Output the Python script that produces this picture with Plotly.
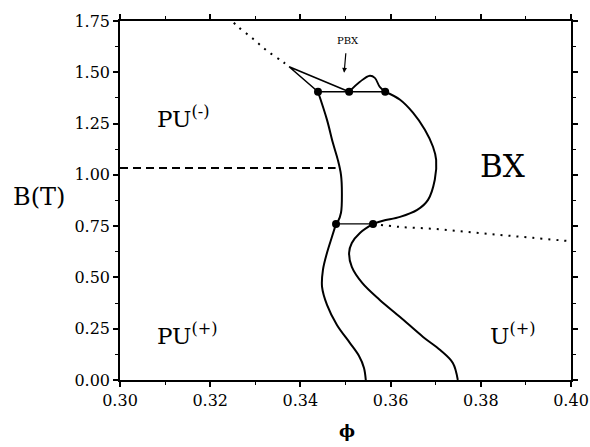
import plotly.graph_objects as go

# Upper-left boundary of BX (from upper tie point down to lower tie point)
bx_left_phi = [0.3439, 0.3459, 0.3472, 0.3483, 0.3490, 0.3492, 0.3490, 0.3483, 0.3479]
bx_left_B = [1.405, 1.268, 1.156, 1.073, 1.000, 0.912, 0.815, 0.771, 0.761]

# Right boundary of BX
bx_right_phi = [0.3588, 0.3621, 0.3650, 0.3676, 0.3694, 0.3701, 0.3698, 0.3683, 0.3659, 0.3621, 0.3583, 0.3561]
bx_right_B = [1.405, 1.366, 1.302, 1.220, 1.137, 1.073, 0.976, 0.878, 0.829, 0.795, 0.776, 0.761]

# Lower-left boundary (PU(+) side)
low_left_phi = [0.3479, 0.3470, 0.3459, 0.3450, 0.3448, 0.3459, 0.3481, 0.3510, 0.3530, 0.3541, 0.3545]
low_left_B = [0.761, 0.698, 0.620, 0.537, 0.454, 0.366, 0.268, 0.180, 0.117, 0.059, 0.000]

# Lower-right boundary (U(+) side)
low_right_phi = [0.3561, 0.3532, 0.3514, 0.3508, 0.3514, 0.3537, 0.3576, 0.3621, 0.3672, 0.3710, 0.3738, 0.3749]
low_right_B = [0.761, 0.717, 0.668, 0.620, 0.551, 0.473, 0.390, 0.307, 0.210, 0.146, 0.083, 0.000]

# PBX region near the top
cusp_phi = [0.3439, 0.3375, 0.3508]
cusp_B = [1.405, 1.527, 1.405]
bump_phi = [0.3508, 0.3532, 0.3554, 0.3565, 0.3576, 0.3588]
bump_B = [1.405, 1.454, 1.483, 1.473, 1.429, 1.405]

# Tie lines (triple points)
tie_top_phi = [0.3439, 0.3508, 0.3588]
tie_top_B = [1.405, 1.405, 1.405]
tie_low_phi = [0.3479, 0.3561]
tie_low_B = [0.761, 0.761]

# Dotted lines
dot_top_phi = [0.3240, 0.3259, 0.3295, 0.3326, 0.3361, 0.3375]
dot_top_B = [1.770, 1.727, 1.663, 1.605, 1.551, 1.527]
dot_right_phi = [0.3561, 0.3621, 0.3694, 0.3769, 0.3843, 0.3916, 0.3991, 0.4000]
dot_right_B = [0.761, 0.746, 0.737, 0.722, 0.707, 0.693, 0.678, 0.676]

# Dashed line
dash_phi = [0.3000, 0.3478]
dash_B = [1.034, 1.034]

x_ticks = [0.30, 0.32, 0.34, 0.36, 0.38, 0.40]
y_ticks = [0.00, 0.25, 0.50, 0.75, 1.00, 1.25, 1.50, 1.75]

FONT = "DejaVu Serif"

fig = go.Figure()

def solid(x, y, w=2.0, shape="spline"):
    fig.add_trace(go.Scatter(x=x, y=y, mode="lines", line=dict(color="black", width=w, shape=shape),
                             showlegend=False, hoverinfo="skip"))

solid(bx_left_phi, bx_left_B)
solid(bx_right_phi, bx_right_B)
solid(low_left_phi, low_left_B)
solid(low_right_phi, low_right_B)
solid(cusp_phi, cusp_B, 1.6, "linear")
solid(bump_phi, bump_B, 1.8)
solid(tie_top_phi, tie_top_B, 1.4, "linear")
solid(tie_low_phi, tie_low_B, 1.4, "linear")

fig.add_trace(go.Scatter(x=dot_top_phi, y=dot_top_B, mode="lines",
                         line=dict(color="black", width=2, dash="2px,6px", shape="spline"),
                         showlegend=False, hoverinfo="skip"))
fig.add_trace(go.Scatter(x=dot_right_phi, y=dot_right_B, mode="lines",
                         line=dict(color="black", width=2, dash="2px,6px", shape="spline"),
                         showlegend=False, hoverinfo="skip"))
fig.add_trace(go.Scatter(x=dash_phi, y=dash_B, mode="lines",
                         line=dict(color="black", width=2, dash="8px,5px"),
                         showlegend=False, hoverinfo="skip"))

fig.add_trace(go.Scatter(x=tie_top_phi + tie_low_phi, y=tie_top_B + tie_low_B, mode="markers",
                         marker=dict(color="black", size=8), showlegend=False, hoverinfo="skip"))

ann = [
    dict(x=0.3078, y=1.283, text="PU<sup>(-)</sup>", xanchor="left", yanchor="middle", size=23),
    dict(x=0.3078, y=0.224, text="PU<sup>(+)</sup>", xanchor="left", yanchor="middle", size=23),
    dict(x=0.3847, y=1.044, text="BX", xanchor="center", yanchor="middle", size=31),
    dict(x=0.3815, y=0.224, text="U<sup>(+)</sup>", xanchor="left", yanchor="middle", size=23),
    dict(x=0.35055, y=1.654, text="PBX", xanchor="center", yanchor="middle", size=10),
]
for a in ann:
    fig.add_annotation(x=a["x"], y=a["y"], text=a["text"], showarrow=False, xanchor=a["xanchor"],
                       yanchor=a["yanchor"], font=dict(family=FONT, size=a["size"], color="black"))

fig.add_annotation(x=0.3497, y=1.498, ax=0.3501, ay=1.600, axref="x", ayref="y", text="",
                   showarrow=True, arrowhead=2, arrowsize=0.8, arrowwidth=1.2, arrowcolor="black")

fig.add_annotation(x=-0.1175, y=0.51, xref="paper", yref="paper", text="B(T)", showarrow=False,
                   xanchor="right", yanchor="middle", font=dict(family=FONT, size=24, color="black"))
fig.add_annotation(x=0.503, y=-0.142, xref="paper", yref="paper", text="<b>ϕ</b>", showarrow=False,
                   xanchor="center", yanchor="middle", font=dict(family=FONT, size=17, color="black"))

axis_common = dict(showline=True, linecolor="black", linewidth=1.5, mirror="ticks", ticks="outside",
                   ticklen=5, tickwidth=1.5, tickcolor="black", showgrid=False, zeroline=False,
                   automargin=False, tickfont=dict(family=FONT, size=16, color="black"))

fig.update_xaxes(range=[0.30, 0.40], tickvals=x_ticks, ticktext=[f"{v:.2f}" for v in x_ticks],
                 minor=dict(dtick=0.01, ticks="outside", ticklen=3, tickwidth=1.2, tickcolor="black"),
                 **axis_common)
fig.update_yaxes(range=[0.0, 1.75], tickvals=y_ticks, ticktext=[f"{v:.2f}" for v in y_ticks],
                 minor=dict(dtick=0.125, ticks="outside", ticklen=3, tickwidth=1.2, tickcolor="black"),
                 **axis_common)

fig.update_layout(width=590, height=447, margin=dict(l=120, r=19, t=21, b=67),
                  plot_bgcolor="white", paper_bgcolor="white")

# remove the default page margin so the figure fills the 590x447 window exactly
fig.write_html("out.html", config={"displayModeBar": False},
               post_script="document.body.style.margin='0';document.body.style.overflow='hidden';")
